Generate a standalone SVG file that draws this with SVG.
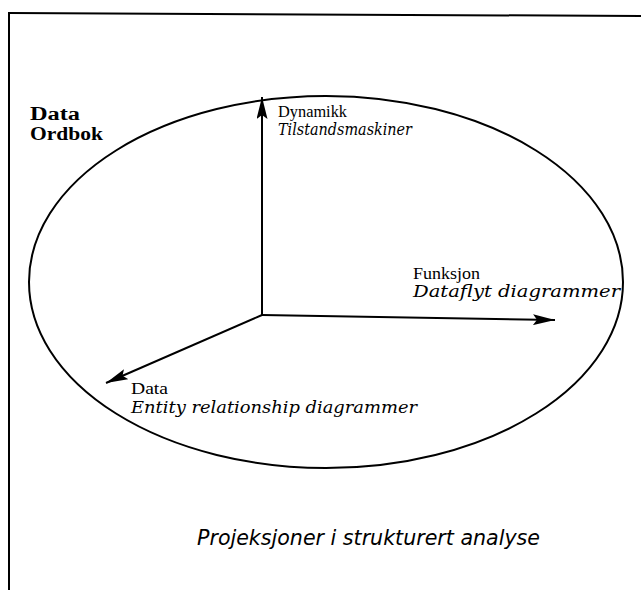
<svg xmlns="http://www.w3.org/2000/svg" width="641" height="590" viewBox="0 0 641 590">
<style>
.ln{stroke:#000;stroke-width:2;fill:none}
.s{font-family:"Liberation Serif",serif;font-size:17px;fill:#000}
.i{font-family:"DejaVu Serif","Liberation Serif",serif;font-style:italic;font-size:16px}
.b{font-family:"Liberation Serif",serif;font-weight:bold;font-size:18px;fill:#000}
.cap{font-family:"DejaVu Sans","Liberation Sans",sans-serif;font-style:italic;font-size:21px;fill:#000}
</style>
<defs>
<marker id="ah" viewBox="0 0 22 11" refX="22" refY="5.5" markerWidth="22" markerHeight="11" markerUnits="userSpaceOnUse" orient="auto">
<path d="M0,0 L22,5.5 L0,11 L4,5.5 Z" fill="#000"/>
</marker>
</defs>
<g id="frame">
<line x1="10" y1="13" x2="641" y2="16" class="ln"/>
<line x1="9" y1="12" x2="9" y2="590" class="ln"/>
</g>
<g id="ellipse">
<ellipse cx="326" cy="282" rx="297" ry="186" class="ln"/>
</g>
<g id="connectors">
<line x1="262" y1="315" x2="262" y2="97" class="ln" marker-end="url(#ah)"/>
<line x1="262" y1="315" x2="555" y2="320" class="ln" marker-end="url(#ah)"/>
<line x1="262" y1="315" x2="106" y2="383" class="ln" marker-end="url(#ah)"/>
</g>
<g id="dataordbok">
<text x="30" y="120" class="b" textLength="50" lengthAdjust="spacingAndGlyphs">Data</text>
<text x="30" y="140" class="b" textLength="73" lengthAdjust="spacingAndGlyphs">Ordbok</text>
</g>
<g id="dynamikk">
<text x="278" y="117" class="s" textLength="69" lengthAdjust="spacingAndGlyphs">Dynamikk</text>
<text x="278" y="135" class="s i" textLength="134" lengthAdjust="spacingAndGlyphs">Tilstandsmaskiner</text>
</g>
<g id="funksjon">
<text x="413" y="279" class="s" textLength="67" lengthAdjust="spacingAndGlyphs">Funksjon</text>
<text x="413" y="297" class="s i" textLength="207" lengthAdjust="spacingAndGlyphs">Dataflyt diagrammer</text>
</g>
<g id="data">
<text x="131" y="394" class="s" textLength="37" lengthAdjust="spacingAndGlyphs">Data</text>
<text x="131" y="413" class="s i" textLength="286" lengthAdjust="spacingAndGlyphs">Entity relationship diagrammer</text>
</g>
<g id="caption">
<text x="197" y="545" class="cap" textLength="343" lengthAdjust="spacingAndGlyphs">Projeksjoner i strukturert analyse</text>
</g>
</svg>
